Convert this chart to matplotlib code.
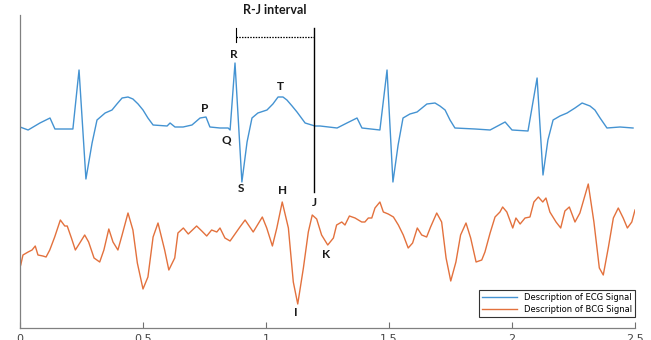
import matplotlib
matplotlib.use("Agg")
import matplotlib.pyplot as plt

# ---- data (time in s, amplitude in arbitrary units) ----
ecg_t = [0.000, 0.033, 0.081, 0.122, 0.142, 0.215, 0.240, 0.268, 0.293, 0.313,
         0.346, 0.374, 0.394, 0.415, 0.439, 0.459, 0.480, 0.500, 0.520, 0.541,
         0.598, 0.610, 0.630, 0.663, 0.699, 0.732, 0.756, 0.772, 0.813, 0.846,
         0.854, 0.874, 0.902, 0.923, 0.943, 0.967, 1.004, 1.028, 1.049, 1.069,
         1.085, 1.106, 1.126, 1.159, 1.199, 1.220, 1.289, 1.329, 1.370, 1.390,
         1.463, 1.492, 1.516, 1.537, 1.557, 1.585, 1.614, 1.634, 1.654, 1.687,
         1.707, 1.728, 1.748, 1.768, 1.850, 1.911, 1.972, 2.000, 2.065, 2.102,
         2.126, 2.146, 2.167, 2.195, 2.224, 2.256, 2.285, 2.317, 2.337, 2.358,
         2.386, 2.439, 2.492]
ecg_v = [201, 198, 205, 210, 199, 199, 258, 149, 185, 208,
         215, 218, 224, 230, 231, 229, 224, 218, 210, 203,
         202, 205, 201, 201, 203, 210, 211, 201, 200, 200,
         198, 265, 146, 186, 210, 215, 218, 224, 231, 231,
         228, 222, 216, 205, 202, 202, 200, 205, 210, 200,
         198, 258, 146, 183, 210, 214, 216, 220, 224, 225,
         222, 218, 208, 200, 199, 198, 206, 198, 197, 250,
         153, 188, 208, 212, 215, 220, 225, 222, 218, 210,
         200, 201, 200]

bcg_t = [0.000, 0.003, 0.012, 0.033, 0.049, 0.062, 0.073, 0.093, 0.106, 0.121,
         0.141, 0.164, 0.182, 0.192, 0.209, 0.225, 0.243, 0.263, 0.279, 0.301,
         0.324, 0.341, 0.361, 0.378, 0.398, 0.415, 0.439, 0.459, 0.477, 0.500,
         0.520, 0.541, 0.561, 0.588, 0.605, 0.629, 0.642, 0.664, 0.684, 0.718,
         0.739, 0.759, 0.779, 0.800, 0.813, 0.833, 0.854, 0.874, 0.894, 0.915,
         0.948, 0.985, 1.003, 1.026, 1.044, 1.066, 1.091, 1.111, 1.129, 1.152,
         1.172, 1.188, 1.206, 1.226, 1.251, 1.274, 1.287, 1.308, 1.321, 1.339,
         1.362, 1.389, 1.402, 1.416, 1.430, 1.443, 1.463, 1.477, 1.497, 1.518,
         1.538, 1.558, 1.578, 1.596, 1.615, 1.633, 1.653, 1.669, 1.694, 1.714,
         1.732, 1.751, 1.772, 1.791, 1.813, 1.832, 1.854, 1.877, 1.890, 1.911,
         1.931, 1.951, 1.962, 1.979, 2.003, 2.016, 2.033, 2.053, 2.073, 2.089,
         2.107, 2.125, 2.138, 2.154, 2.179, 2.198, 2.215, 2.233, 2.256, 2.276,
         2.310, 2.333, 2.355, 2.371, 2.392, 2.412, 2.432, 2.452, 2.469, 2.487,
         2.500]
bcg_v = [61, 63, 73, 76, 78, 82, 73, 72, 71, 78,
         91, 108, 102, 102, 90, 78, 85, 93, 86, 70,
         66, 78, 99, 86, 78, 93, 115, 98, 65, 39,
         51, 91, 105, 78, 58, 70, 95, 100, 94, 102,
         97, 92, 98, 96, 100, 90, 87, 94, 101, 108,
         96, 111, 100, 82, 100, 126, 100, 46, 24, 60,
         96, 113, 109, 93, 83, 90, 103, 106, 103, 112,
         110, 106, 106, 110, 110, 120, 126, 116, 114, 111,
         103, 93, 80, 85, 100, 93, 91, 101, 115, 106,
         70, 47, 66, 93, 105, 90, 66, 68, 76, 95,
         111, 116, 121, 116, 100, 110, 104, 110, 111, 126,
         131, 126, 130, 116, 106, 100, 117, 121, 106, 115,
         144, 106, 60, 53, 81, 110, 120, 110, 100, 106,
         118]

x_ticks = [0, 0.5, 1, 1.5, 2, 2.5]
x_tick_labels = ["0", "0.5", "1", "1.5", "2", "2.5"]

legend_labels = ["Description of ECG Signal", "Description of BCG Signal"]

point_labels = ["R", "P", "Q", "T", "S", "H", "J", "K", "I"]
point_t = [0.870, 0.752, 0.837, 1.057, 0.898, 1.069, 1.195, 1.244, 1.122]
point_v = [273, 220, 188, 241, 140, 138, 125, 73, 16]

r_time = 0.878
j_time = 1.195

# ---- figure ----
fig = plt.figure(figsize=(6.51, 3.40), dpi=100)
ax = fig.add_axes([20 / 651, 12 / 340, 615 / 651, 313 / 340])

ecg_color = "#4493d2"
bcg_color = "#e3713d"
ax.plot(ecg_t, ecg_v, color=ecg_color, lw=1.0, label=legend_labels[0])
ax.plot(bcg_t, bcg_v, color=bcg_color, lw=1.0, label=legend_labels[1])

ax.set_xlim(0, 2.5)
ax.set_ylim(0, 313)
ax.set_xticks(x_ticks)
ax.set_xticklabels(x_tick_labels, fontsize=8, color="#444444")
ax.set_yticks([])
ax.tick_params(axis="x", direction="in", length=4, width=0.8, color="#707070", pad=4)
for side in ["top", "right"]:
    ax.spines[side].set_visible(False)
for side in ["left", "bottom"]:
    ax.spines[side].set_color("#808080")
    ax.spines[side].set_linewidth(0.9)

font = dict(family=["Lato", "DejaVu Sans"], fontweight="bold", fontsize=8.5, color="#1a1a1a")
for lab, tt, vv in zip(point_labels, point_t, point_v):
    ax.text(tt, vv, lab, ha="center", va="center", **font)

# R-J interval bracket
ax.plot([r_time, r_time], [286, 300], color="black", lw=0.8, clip_on=False)
ax.plot([r_time, j_time], [291, 291], color="black", lw=0.9, ls=(0, (1.2, 1.0)), clip_on=False)
ax.plot([j_time, j_time], [136, 300], color="black", lw=1.0, clip_on=False)
ax.text((r_time + j_time) / 2, 318, "R-J interval", ha="center", va="center",
        clip_on=False, family=["Lato", "DejaVu Sans"], fontweight="bold",
        fontsize=9, color="#1a1a1a")

leg = ax.legend(loc="lower right", bbox_to_anchor=(1.0, 0.035), fontsize=6,
                frameon=True, fancybox=False, edgecolor="#333333", framealpha=1,
                handlelength=4.2, borderaxespad=0, borderpad=0.4, labelspacing=0.3)
leg.get_frame().set_linewidth(0.8)

fig.savefig("out.png", dpi=100)
